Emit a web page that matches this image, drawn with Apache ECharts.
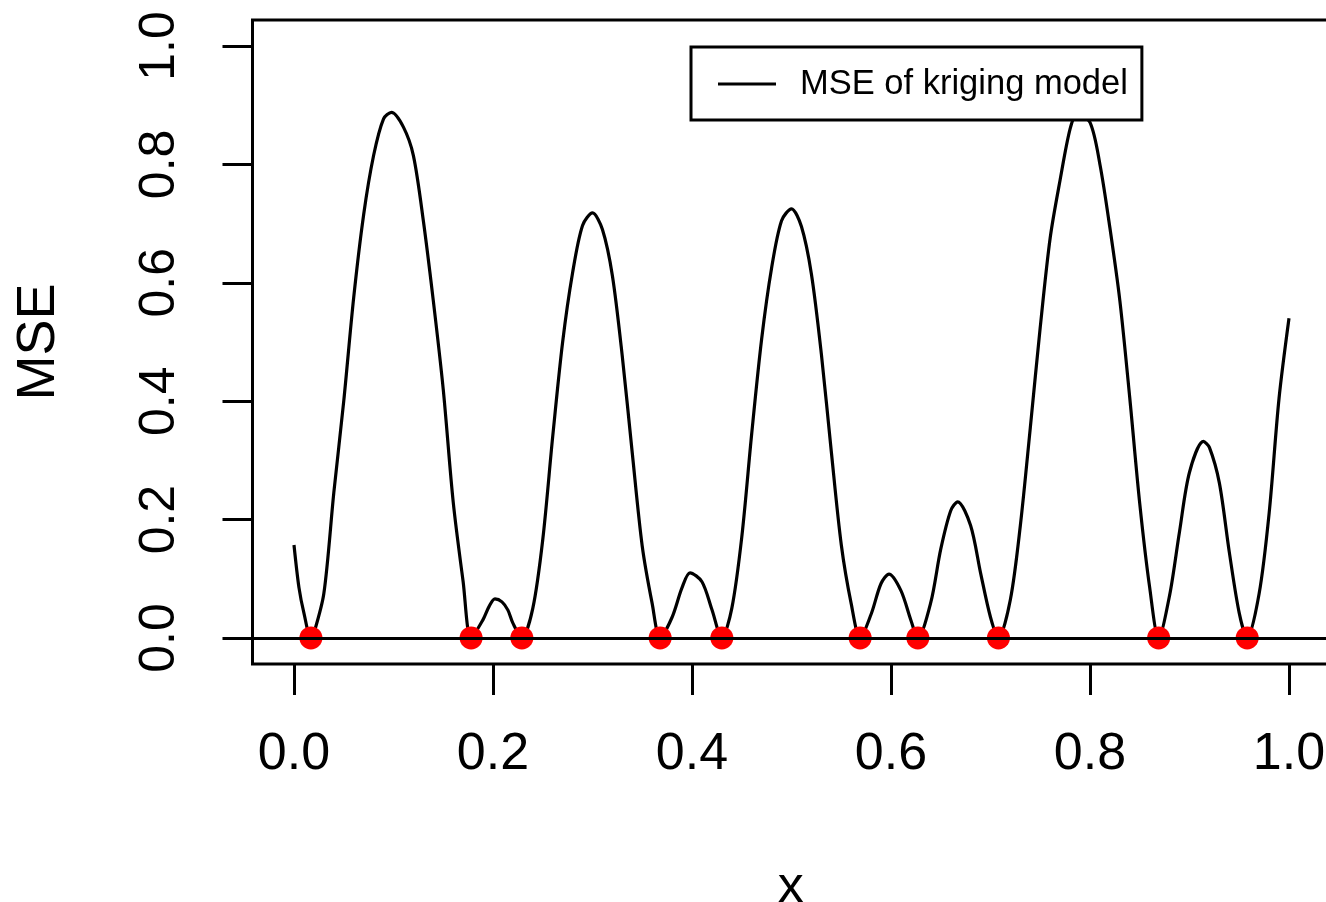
<!DOCTYPE html>
<html>
<head>
<meta charset="utf-8">
<script src="https://cdn.jsdelivr.net/npm/echarts@6/dist/echarts.min.js"></script>
<style>
  html, body { margin: 0; padding: 0; background: #fff; }
  #chart { width: 1326px; height: 902px; }
</style>
</head>
<body>
<div id="chart"></div>
<script>
// Kriging mean squared error evaluated along x
const curveX = [
  0.000, 0.005, 0.010, 0.017, 0.020, 0.030, 0.040, 0.050, 0.060, 0.070,
  0.080, 0.090, 0.098, 0.110, 0.120, 0.130, 0.140, 0.150, 0.160, 0.170,
  0.178, 0.190, 0.196, 0.202, 0.209, 0.215, 0.220, 0.229, 0.240, 0.250,
  0.260, 0.270, 0.280, 0.290, 0.300, 0.310, 0.320, 0.330, 0.340, 0.350,
  0.360, 0.368, 0.380, 0.390, 0.398, 0.410, 0.420, 0.430, 0.440, 0.450,
  0.460, 0.470, 0.480, 0.490, 0.500, 0.510, 0.520, 0.530, 0.540, 0.550,
  0.560, 0.569, 0.580, 0.590, 0.598, 0.610, 0.620, 0.627, 0.640, 0.650,
  0.660, 0.667, 0.680, 0.690, 0.700, 0.708, 0.720, 0.730, 0.740, 0.750,
  0.760, 0.770, 0.780, 0.787, 0.800, 0.810, 0.820, 0.830, 0.840, 0.850,
  0.860, 0.869, 0.880, 0.890, 0.900, 0.914, 0.920, 0.930, 0.940, 0.950,
  0.958, 0.970, 0.980, 0.990, 1.000
];
const curveY = [
  0.157, 0.085, 0.042, 0.000, 0.008, 0.075, 0.245, 0.400, 0.575, 0.715,
  0.815, 0.877, 0.888, 0.863, 0.815, 0.705, 0.570, 0.420, 0.230, 0.095,
  0.000, 0.031, 0.053, 0.066, 0.061, 0.047, 0.025, 0.000, 0.050, 0.166,
  0.340, 0.500, 0.617, 0.697, 0.718, 0.690, 0.612, 0.475, 0.312, 0.155,
  0.058, 0.000, 0.035, 0.085, 0.110, 0.095, 0.048, 0.000, 0.050, 0.170,
  0.345, 0.505, 0.625, 0.705, 0.725, 0.695, 0.615, 0.480, 0.315, 0.158,
  0.058, 0.000, 0.040, 0.092, 0.108, 0.080, 0.030, 0.000, 0.060, 0.150,
  0.215, 0.230, 0.190, 0.110, 0.035, 0.000, 0.065, 0.190, 0.355, 0.525,
  0.676, 0.774, 0.860, 0.885, 0.871, 0.800, 0.693, 0.570, 0.405, 0.227,
  0.085, 0.000, 0.072, 0.180, 0.280, 0.332, 0.322, 0.262, 0.145, 0.042,
  0.000, 0.075, 0.210, 0.405, 0.540
];
// Design points (sampled locations, MSE = 0)
const designX = [0.017, 0.178, 0.229, 0.368, 0.430, 0.569, 0.627, 0.708, 0.869, 0.958];
const designY = [0, 0, 0, 0, 0, 0, 0, 0, 0, 0];
// Axis ticks
const tickValues = [0, 0.2, 0.4, 0.6, 0.8, 1.0];
const tickLabels = ['0.0', '0.2', '0.4', '0.6', '0.8', '1.0'];

const FONT = '"Liberation Sans", Arial, sans-serif';
const labelFor = v => {
  const i = tickValues.findIndex(t => Math.abs(t - v) < 1e-9);
  return i >= 0 ? tickLabels[i] : '';
};

const chart = echarts.init(document.getElementById('chart'), null, { renderer: 'canvas' });
chart.setOption({
  animation: false,
  backgroundColor: '#ffffff',
  textStyle: { fontFamily: FONT },
  grid: {
    left: 252.5, top: 20, width: 1076.3, height: 644,
    show: true, borderColor: '#000', borderWidth: 3,
    backgroundColor: 'transparent', containLabel: false,
    outerBoundsMode: 'none'
  },
  legend: {
    data: ['MSE of kriging model'],
    left: 691, top: 47,
    orient: 'horizontal',
    icon: 'rect', itemWidth: 58, itemHeight: 3,
    itemStyle: { color: '#000' },
    backgroundColor: '#fff', borderColor: '#000', borderWidth: 3, borderRadius: 0,
    padding: [11, 14, 10, 27],
    selectedMode: false,
    textStyle: { fontFamily: FONT, fontSize: 34.5, color: '#000', lineHeight: 40, padding: [12, 0, 0, 19] }
  },
  xAxis: {
    type: 'value', min: -0.0417, max: 1.04,
    name: 'x', nameLocation: 'middle', nameGap: 224,
    nameTextStyle: { fontFamily: FONT, fontSize: 52, color: '#000', verticalAlign: 'middle' },
    axisLine: { show: false, onZero: false },
    splitLine: { show: false },
    axisTick: { show: true, inside: false, length: 31, customValues: tickValues,
      lineStyle: { color: '#000', width: 3 } },
    axisLabel: { customValues: tickValues, formatter: labelFor, fontFamily: FONT, fontSize: 52,
      color: '#000', margin: 91, verticalAlign: 'middle' }
  },
  yAxis: {
    type: 'value', min: -0.044, max: 1.044,
    name: 'MSE', nameLocation: 'middle', nameGap: 213, nameRotate: 90,
    nameTextStyle: { fontFamily: FONT, fontSize: 54, color: '#000', verticalAlign: 'middle', align: 'center' },
    axisLine: { show: false, onZero: false },
    splitLine: { show: false },
    axisTick: { show: true, inside: false, length: 30, customValues: tickValues,
      lineStyle: { color: '#000', width: 3 } },
    axisLabel: { customValues: tickValues, formatter: labelFor, fontFamily: FONT, fontSize: 50,
      color: '#000', rotate: 90, margin: 92, align: 'center', verticalAlign: 'middle' }
  },
  series: [
    {
      name: 'MSE of kriging model',
      type: 'line',
      data: curveX.map((x, i) => [x, curveY[i]]),
      smooth: 0.3,
      showSymbol: false,
      symbol: 'none',
      color: '#000',
      itemStyle: { color: '#000' },
      lineStyle: { color: '#000', width: 3.2 },
      z: 2
    },
    {
      name: 'design points',
      type: 'scatter',
      data: designX.map((x, i) => [x, designY[i]]),
      symbol: 'circle',
      symbolSize: 23,
      itemStyle: { color: '#ff0000', opacity: 1 },
      z: 3,
      markLine: {
        silent: true,
        symbol: ['none', 'none'],
        label: { show: false },
        lineStyle: { color: '#000', width: 3, type: 'solid' },
        data: [{ yAxis: 0 }]
      }
    }
  ]
});
</script>
</body>
</html>
